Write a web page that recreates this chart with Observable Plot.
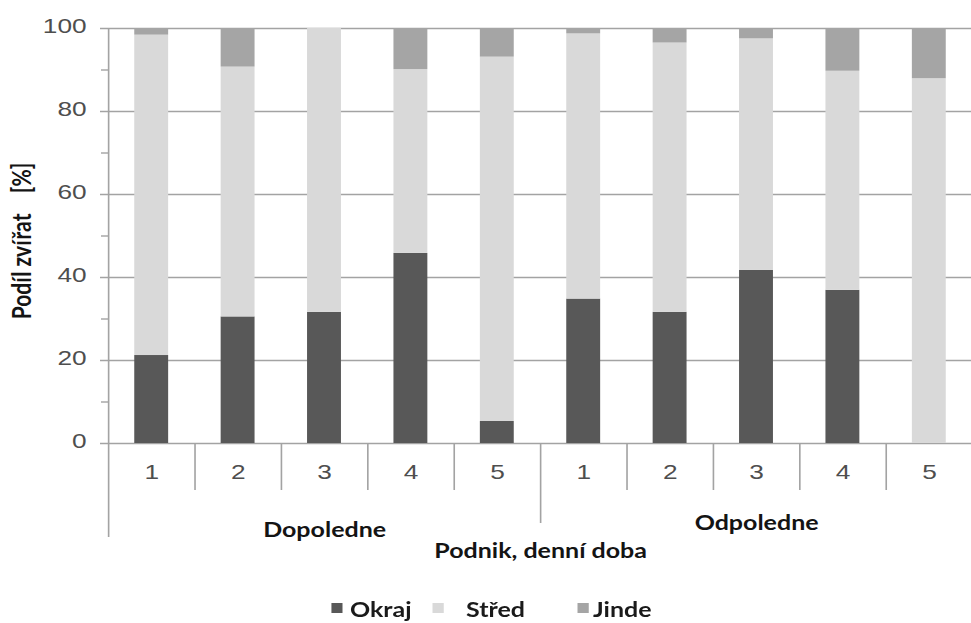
<!DOCTYPE html>
<html>
<head>
<meta charset="utf-8">
<script src="https://cdn.jsdelivr.net/npm/d3@7"></script>
<script src="https://cdn.jsdelivr.net/npm/@observablehq/plot@0.6"></script>
<style>
  html, body { margin: 0; padding: 0; background: #fff; }
  #frame { position: relative; width: 971px; height: 623px; overflow: hidden; background: #fff; }
  /* the whole figure is drawn at 80% width and stretched horizontally */
  #wide { position: absolute; left: 0; top: 0; width: 778px; height: 623px; transform: scaleX(1.25); transform-origin: 0 0; }
  #legend { position: absolute; left: 0; top: 597px; width: 778px; height: 26px; font: 700 20px Lato, sans-serif; color: #1a1a1a; }
  #legend .sw { position: absolute; top: 6px; width: 8.8px; height: 10px; }
  #legend .lb { position: absolute; top: 0; line-height: 24px; white-space: nowrap; }
</style>
</head>
<body>
<div id="frame"><div id="wide"><div id="chart"></div><div id="legend"></div></div></div>
<script>
// Share of animals by location, per farm (1–5) and time of day
const periods = ["Dopoledne", "Odpoledne"];
const sites = ["1", "2", "3", "4", "5"];
const categories = ["Okraj", "Střed", "Jinde"];
const colors = ["#585858", "#d9d9d9", "#a5a5a5"];

// percentages, morning farms 1–5 then afternoon farms 1–5
const okraj = [21.2, 30.5, 31.6, 45.8, 5.3, 34.8, 31.6, 41.7, 36.9, 0];
const stred = [77.2, 60.2, 68.4, 44.3, 87.8, 63.9, 64.9, 55.8, 52.8, 87.9];
const jinde = [1.6, 9.3, 0.0, 9.9, 6.9, 1.3, 3.5, 2.5, 10.3, 12.1];

const yTicks = [0, 20, 40, 60, 80, 100];
const yMinorTicks = [10, 30, 50, 70, 90];
const yTitle = "Podíl zvířat\u00a0\u00a0\u00a0\u00a0[%]";
const xTitle = "Podnik, denní doba";

// one column per farm and period
const columns = periods.flatMap((period, p) =>
  sites.map((site, s) => ({i: p * sites.length + s, period, site})));
const n = columns.length;
const series = [okraj, stred, jinde];
const rows = columns.flatMap(c =>
  categories.map((category, k) => ({i: c.i, category, value: series[k][c.i]})));

const periodCenters = periods.map((period, p) => ({period, center: (p + 0.5) * sites.length}));
const siteSeparators = d3.range(1, n).filter(i => i % sites.length !== 0);
const periodSeparators = d3.range(sites.length, n, sites.length);

const grid = "#a3a3a3";
const tickInk = "#4e4e4e";
const tickFont = "Liberation Sans, Arial, sans-serif";
const boldFont = "Lato, sans-serif";

const chart = Plot.plot({
  width: 778,
  height: 580,
  marginTop: 28,
  marginBottom: 137,
  marginLeft: 86.4,
  marginRight: 0.4,
  style: {background: "#fff", overflow: "visible"},
  x: {domain: [0, n], axis: null},
  y: {domain: [0, 100], axis: null},
  color: {domain: categories, range: colors},
  marks: [
    // gridlines (with their tick stubs) and minor ticks
    Plot.ruleY(yTicks, {stroke: grid, strokeWidth: 1.7, insetLeft: -6.4}),
    Plot.ruleY(yMinorTicks, {x1: 0, x2: 0, stroke: grid, strokeWidth: 1.4, insetLeft: -5.6}),
    // stacked bars
    Plot.rectY(rows, {
      x1: "i", x2: d => d.i + 1, y: "value", fill: "category",
      insetLeft: 21, insetRight: 21
    }),
    // vertical axis line, continued down past the category labels
    Plot.ruleX([0], {y1: 100, y2: 0, stroke: grid, strokeWidth: 1.3, insetBottom: -94}),
    Plot.ruleX(siteSeparators, {y1: 0, y2: 0, stroke: grid, strokeWidth: 1.3, insetBottom: -47}),
    Plot.ruleX(periodSeparators, {y1: 0, y2: 0, stroke: grid, strokeWidth: 1.3, insetBottom: -80}),
    // y tick labels
    Plot.axisY({
      ticks: yTicks, tickSize: 0, tickPadding: 17.6, label: null, dy: -2,
      fill: tickInk, fontSize: 21, fontFamily: tickFont
    }),
    // farm labels
    Plot.text(columns, {
      x: d => d.i + 0.5, y: 0, text: "site", dy: 29,
      fill: tickInk, fontSize: 21, fontFamily: tickFont
    }),
    // time-of-day labels
    Plot.text(periodCenters.slice(0, 1), {
      x: "center", y: 0, text: "period", dy: 87,
      fill: "#141414", fontSize: 20, fontWeight: "bold", fontFamily: boldFont
    }),
    Plot.text(periodCenters.slice(1), {
      x: "center", y: 0, text: "period", dy: 80,
      fill: "#141414", fontSize: 20, fontWeight: "bold", fontFamily: boldFont
    }),
    // axis titles
    Plot.text([xTitle], {
      frameAnchor: "bottom", dy: 114,
      fill: "#141414", fontSize: 20, fontWeight: "bold", fontFamily: boldFont
    }),
    Plot.text([yTitle], {
      frameAnchor: "left", textAnchor: "middle", rotate: -90, dx: -68.8, dy: 5,
      fill: "#141414", fontSize: 21, fontWeight: "bold", fontFamily: boldFont
    })
  ]
});
document.getElementById("chart").append(chart);

// legend: swatch and label offsets along the bottom line
const swatchLeft = [264.8, 346.4, 462.4];
const labelLeft = [280, 372.8, 474.4];
const legend = document.getElementById("legend");
categories.forEach((category, k) => {
  const sw = document.createElement("div");
  sw.className = "sw";
  sw.style.left = swatchLeft[k] + "px";
  sw.style.background = colors[k];
  const lb = document.createElement("div");
  lb.className = "lb";
  lb.style.left = labelLeft[k] + "px";
  lb.textContent = category;
  legend.append(sw, lb);
});
</script>
</body>
</html>
